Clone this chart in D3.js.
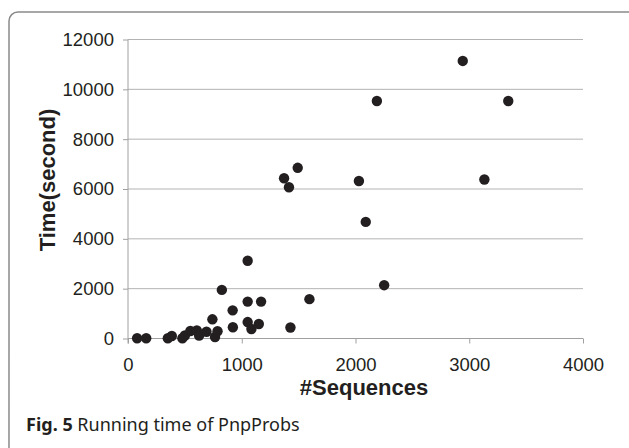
<!DOCTYPE html>
<html><head><meta charset="utf-8">
<script src="https://cdn.jsdelivr.net/npm/d3@7"></script>
<style>
body{margin:0;background:#fff;}
svg{display:block;}
</style></head>
<body>
<svg id="c" width="629" height="448"></svg>
<script>
const seqs  = [80,160,350,385,478,500,548,605,625,690,742,765,787,825,920,922,1052,1052,1052,1085,1150,1170,1428,1595,1372,1415,1492,2030,2090,2188,2252,2943,3133,3343];
const times = [10,10,10,100,10,120,300,320,120,270,770,60,290,1950,1130,450,3120,1480,660,380,580,1480,440,1580,6430,6070,6850,6320,4680,9530,2140,11140,6380,9530];
const xTicks = [0,1000,2000,3000,4000];
const yTicks = [0,2000,4000,6000,8000,10000,12000];

const svg = d3.select("#c");
const x = d3.scaleLinear().domain([0,4000]).range([128,583]);
const y = d3.scaleLinear().domain([0,12000]).range([338.5,39.5]);

// frame
svg.append("rect").attr("x",9).attr("y",12).attr("width",700).attr("height",500)
  .attr("rx",9).attr("fill","none").attr("stroke","#8a8a8a").attr("stroke-width",1.5);

// grid
svg.append("g").selectAll("line").data(yTicks.filter(d=>d>0)).join("line")
  .attr("x1",x(0)).attr("x2",x(4000)).attr("y1",d=>y(d)).attr("y2",d=>y(d))
  .attr("stroke","#b3b3b3").attr("stroke-width",1);

// y axis
const ya = svg.append("g").attr("transform",`translate(${x(0)},0)`)
  .call(d3.axisLeft(y).tickValues(yTicks).tickSize(5).tickPadding(9).tickFormat(d3.format("d")));
ya.select(".domain").attr("stroke","#a0a0a0").attr("d",`M0,${y(12000)}V${y(0)+5}`);
ya.selectAll(".tick line").attr("stroke","#a0a0a0");
ya.selectAll(".tick text").attr("font-family","Liberation Sans, Arial, sans-serif").attr("font-size",18.5).attr("fill","#231f20");

// x axis
const xa = svg.append("g").attr("transform",`translate(0,${y(0)})`)
  .call(d3.axisBottom(x).tickValues(xTicks).tickSize(5).tickPadding(14).tickFormat(d3.format("d")));
xa.select(".domain").attr("stroke","#a0a0a0").attr("d",`M${x(0)},0H${x(4000)}`);
xa.selectAll(".tick line").attr("stroke","#a0a0a0");
xa.selectAll(".tick text").attr("font-family","Liberation Sans, Arial, sans-serif").attr("font-size",18.5).attr("fill","#231f20");

// points
svg.append("g").selectAll("circle").data(seqs.map((s,i)=>[s,times[i]])).join("circle")
  .attr("cx",d=>x(d[0])).attr("cy",d=>y(d[1])).attr("r",5.2).attr("fill","#231f20");

// axis titles
svg.append("text").attr("x",364).attr("y",395).attr("text-anchor","middle")
  .attr("font-family","Liberation Sans, Arial, sans-serif").attr("font-weight","bold").attr("font-size",22)
  .attr("fill","#231f20").text("#Sequences");
svg.append("text").attr("transform","translate(55,180) rotate(-90)").attr("text-anchor","middle")
  .attr("font-family","Liberation Sans, Arial, sans-serif").attr("font-weight","bold").attr("font-size",22)
  .attr("fill","#231f20").text("Time(second)");

// caption
const cap = svg.append("text").attr("x",26).attr("y",431)
  .attr("font-family","Noto Sans, Open Sans, sans-serif").attr("font-size",18).attr("fill","#231f20");
cap.append("tspan").attr("font-weight","bold").text("Fig. 5");
cap.append("tspan").text(" Running time of PnpProbs");
</script>
</body></html>
